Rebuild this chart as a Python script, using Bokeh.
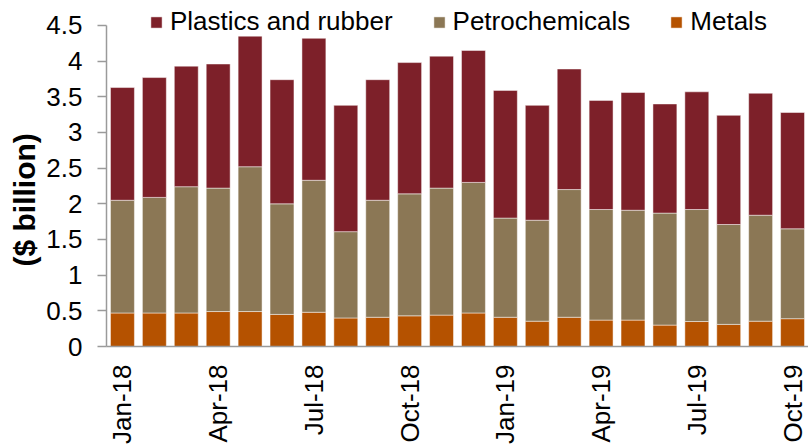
from math import pi
from bokeh.plotting import figure
from bokeh.models import (Range1d, FixedTicker, Legend, LegendItem,
                          ColumnDataSource, Title)
from bokeh.embed import file_html
from bokeh.resources import INLINE

months = ["Jan-18", "Feb-18", "Mar-18", "Apr-18", "May-18", "Jun-18",
          "Jul-18", "Aug-18", "Sep-18", "Oct-18", "Nov-18", "Dec-18",
          "Jan-19", "Feb-19", "Mar-19", "Apr-19", "May-19", "Jun-19",
          "Jul-19", "Aug-19", "Sep-19", "Oct-19"]
metals = [0.47, 0.47, 0.47, 0.49, 0.49, 0.45, 0.48, 0.40, 0.41, 0.43, 0.44,
          0.47, 0.41, 0.355, 0.41, 0.37, 0.37, 0.30, 0.35, 0.31, 0.355, 0.39]
petrochemicals = [1.58, 1.62, 1.77, 1.73, 2.03, 1.55, 1.85, 1.21, 1.64, 1.71, 1.78,
                  1.83, 1.39, 1.415, 1.79, 1.55, 1.54, 1.57, 1.57, 1.40, 1.485, 1.26]
plastics = [1.58, 1.68, 1.69, 1.74, 1.83, 1.74, 1.99, 1.77, 1.69, 1.84, 1.85,
            1.85, 1.79, 1.61, 1.69, 1.53, 1.65, 1.53, 1.65, 1.53, 1.71, 1.63]
series_keys = ["metals", "petrochemicals", "plastics"]
series_names = ["Metals", "Petrochemicals", "Plastics and rubber"]
colors = ["#B55200", "#8B7755", "#7D2029"]
label_every = 3
y_ticks = [0, 0.5, 1, 1.5, 2, 2.5, 3, 3.5, 4, 4.5]
y_tick_labels = ["0", "0.5", "1", "1.5", "2", "2.5", "3", "3.5", "4", "4.5"]
y_axis_max = 4.5
y_view_max = 4.85   # headroom above the axis for the legend
y_title = "($ billion)"

FONT = "Liberation Sans"

idx = list(range(len(months)))
source = ColumnDataSource(dict(x=idx, metals=metals, petrochemicals=petrochemicals,
                               plastics=plastics))

p = figure(width=808, height=446,
           x_range=Range1d(-0.5, len(months) - 0.5), y_range=Range1d(0, y_view_max),
           output_backend="svg", toolbar_location=None,
           min_border_left=106, min_border_right=0, min_border_top=0,
           min_border_bottom=99)

renderers = p.vbar_stack(series_keys, x="x", width=0.75, source=source,
                         color=colors, line_color="white", line_width=0.8,
                         line_alpha=0.6)

items = [LegendItem(label=series_names[i], renderers=[renderers[i]]) for i in (2, 1, 0)]
legend = Legend(items=items, orientation="horizontal", location=(43, 309),
                label_text_font=FONT, label_text_font_size="26px",
                label_text_color="black", glyph_width=14, glyph_height=14,
                label_standoff=7, spacing=39, padding=0, margin=0,
                border_line_color=None, background_fill_alpha=0,
                label_height=14)
p.add_layout(legend, "center")

p.xgrid.visible = False
p.ygrid.visible = False
p.outline_line_color = None

axis_color = "#9A9A9A"
# x axis
p.xaxis.ticker = FixedTicker(ticks=idx[::label_every])
p.xaxis.major_label_overrides = {i: months[i] for i in idx[::label_every]}
p.xaxis.major_label_orientation = pi / 2
p.xaxis.major_tick_line_color = None
p.xaxis.minor_tick_line_color = None
p.xaxis.major_tick_out = 0
p.xaxis.major_label_standoff = 18
p.xaxis.axis_line_color = axis_color
p.xaxis.axis_line_width = 1.5
p.xaxis.major_label_text_font = FONT
p.xaxis.major_label_text_font_size = "26px"
p.xaxis.major_label_text_color = "black"

# y axis
p.yaxis.ticker = FixedTicker(ticks=y_ticks)
p.yaxis.bounds = (0, y_axis_max)
p.yaxis.major_label_overrides = dict(zip(y_ticks, y_tick_labels))
p.yaxis.minor_tick_line_color = None
p.yaxis.major_tick_out = 9
p.yaxis.major_tick_in = 0
p.yaxis.major_tick_line_color = axis_color
p.yaxis.major_tick_line_width = 1.5
p.yaxis.axis_line_color = axis_color
p.yaxis.axis_line_width = 1.5
p.yaxis.major_label_standoff = 15
p.yaxis.major_label_text_font = FONT
p.yaxis.major_label_text_font_size = "26px"
p.yaxis.major_label_text_color = "black"

ytitle = Title(text=y_title, align="left", offset=80, standoff=5,
               text_font=FONT, text_font_style="bold", text_font_size="30px",
               text_color="black")
p.add_layout(ytitle, "left")

open("out.html", "w").write(file_html(p, INLINE))
